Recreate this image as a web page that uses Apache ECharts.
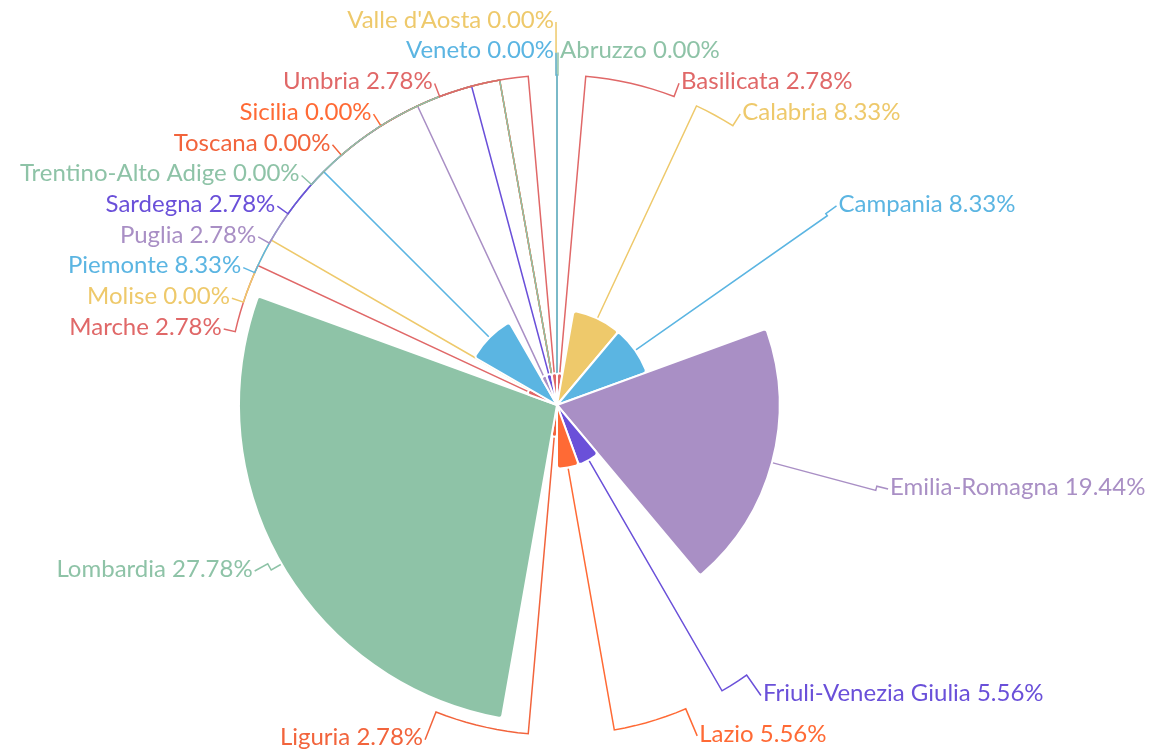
<!DOCTYPE html>
<html>
<head>
<meta charset="utf-8">
<script src="https://cdn.jsdelivr.net/npm/echarts@6/dist/echarts.min.js"></script>
<style>
html, body { margin: 0; padding: 0; background: #fff; }
#viz { width: 1155px; height: 751px; }
</style>
</head>
<body>
<div id="viz"></div>
<script>
// Regions (alphabetical) and number of entries per region
const regions = ['Abruzzo', 'Basilicata', 'Calabria', 'Campania', 'Emilia-Romagna',
    'Friuli-Venezia Giulia', 'Lazio', 'Liguria', 'Lombardia', 'Marche', 'Molise',
    'Piemonte', 'Puglia', 'Sardegna', 'Sicilia', 'Toscana', 'Trentino-Alto Adige',
    'Umbria', "Valle d'Aosta", 'Veneto'];
const counts = [0, 1, 3, 3, 7, 2, 2, 1, 10, 1, 0, 3, 1, 1, 0, 0, 0, 1, 0, 0];

const palette = ['#8ec3a7', '#e06868', '#eec96b', '#5bb5e2', '#a98fc5', '#6a50d9', '#ff6a35', '#f2643c'];

// layout of the rose and its labels
const center = [557, 405];
const radius = 318;
const lineLength = 22;          // labels start this far outside the rim
const rimRadius = radius + 12;  // label lines bend round this circle
const labelGap = 30.7;          // spacing of stacked labels
const labelTop = 26;
const labelRise = 6;

const total = counts.reduce((a, b) => a + b, 0);
const maxCount = Math.max(...counts);

// middle angle of every slice, degrees counter-clockwise from 3 o'clock
const midAngles = [];
let acc = 0;
counts.forEach(c => {
    midAngles.push(90 - (acc + c / 2) / total * 360);
    acc += c;
});

function polar(deg, r) {
    const rad = deg * Math.PI / 180;
    return [center[0] + r * Math.cos(rad), center[1] - r * Math.sin(rad)];
}

// stack the labels on each side, then put them on an ellipse round the pie
function computeLabelPositions() {
    const rA = radius + lineLength;
    const items = counts.map((c, i) => {
        const rad = midAngles[i] * Math.PI / 180;
        return { idx: i, right: Math.cos(rad) > 0, ny: center[1] - rA * Math.sin(rad) };
    });
    const out = [];
    [true, false].forEach(side => {
        const list = items.filter(it => it.right === side)
            .sort((a, b) => a.ny - b.ny || a.idx - b.idx);
        const clusters = [];
        let last = -Infinity;
        let pushed = 0;
        list.forEach(it => {
            if (it.ny < last + labelGap) {
                it.y = last + labelGap;
                clusters[clusters.length - 1].push(it);
            } else {
                it.y = it.ny;
                clusters.push([it]);
            }
            pushed += it.y - it.ny;
            last = it.y;
        });
        const back = pushed / list.length;
        clusters.forEach(c => {
            if (c.length < 2) return;
            const shift = Math.min(back, c[0].y - labelTop);
            c.forEach(it => { it.y -= shift; });
        });
        list.forEach(it => {
            const dy = it.y - center[1];
            const rB = dy < 0 ? rA : rA + 27;
            const k = Math.abs(dy) < rB ? Math.sqrt(1 - dy * dy / (rB * rB)) : 0;
            it.x = center[0] + (side ? 1 : -1) * (k * rA + 3);
            out[it.idx] = it;
        });
    });
    return out;
}

const labelPos = computeLabelPositions();

// label line: out of the slice to the rim, round the rim, then to the label
function placeLabel(params) {
    const i = params.dataIndex;
    const it = labelPos[i];
    if (!it) return {};
    const ty = it.y - labelRise;
    const ax = it.x + (it.right ? -2 : 2);
    const ay = ty + 2;
    const a0 = midAngles[i];
    let a1 = Math.atan2(center[1] - ay, ax - center[0]) * 180 / Math.PI;
    while (a1 - a0 > 180) a1 -= 360;
    while (a1 - a0 < -180) a1 += 360;
    const points = [polar(a0, radius * counts[i] / maxCount)];
    const steps = Math.max(1, Math.ceil(Math.abs(a1 - a0) / 2));
    for (let s = 0; s <= steps; s++) {
        points.push(polar(a0 + (a1 - a0) * s / steps, rimRadius));
    }
    points.push([ax, ay]);
    return {
        x: it.x,
        y: ty,
        align: it.right ? 'left' : 'right',
        verticalAlign: 'middle',
        labelLinePoints: points
    };
}

function createChart() {
    var myChart = echarts.init(document.getElementById('viz'));

    const seriesData = regions.map((name, i) => {
        return { name: name, value: counts[i] };
    });

    var option = {
        color: palette,
        animation: false,
        series: [{
            type: 'pie',
            roseType: 'radius',
            center: center,
            radius: [0, radius],
            bleedMargin: 0,
            data: seriesData,
            itemStyle: {
                borderColor: '#fff',
                borderWidth: 2,
                borderRadius: 3
            },
            label: {
                fontFamily: 'Lato',
                fontSize: 24,
                color: 'inherit',
                overflow: 'none',
                formatter: function (p) {
                    return p.name + ' ' + (p.value / total * 100).toFixed(2) + '%';
                }
            },
            labelLine: {
                length: lineLength,
                length2: 4,
                lineStyle: { width: 1.5 }
            },
            labelLayout: placeLabel
        }]
    };

    myChart.setOption(option);
}

createChart();
</script>
</body>
</html>
